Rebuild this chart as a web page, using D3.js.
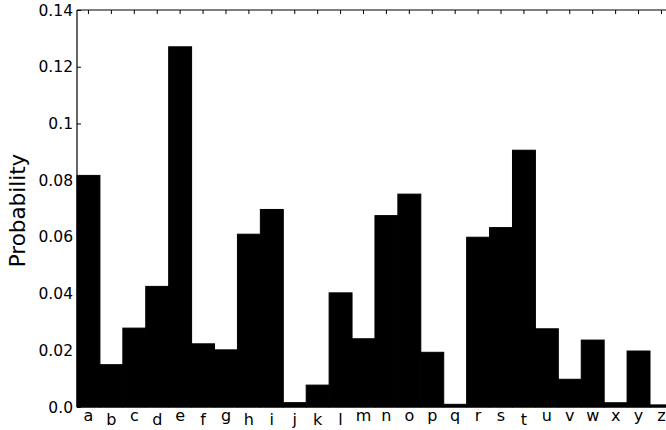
<!DOCTYPE html>
<html>
<head>
<meta charset="utf-8">
<script src="https://cdn.jsdelivr.net/npm/d3@7"></script>
<style>
  html, body { margin: 0; padding: 0; background: #fff; }
  svg { display: block; }
  text { font-family: "DejaVu Sans", sans-serif; fill: #000; }
</style>
</head>
<body>
<svg id="chart" width="666" height="430"></svg>
<script>
const letters = ["a","b","c","d","e","f","g","h","i","j","k","l","m","n","o","p","q","r","s","t","u","v","w","x","y","z"];
const probabilities = [0.08167,0.01492,0.02782,0.04253,0.12702,0.02228,0.02015,0.06094,0.06966,0.00153,0.00772,0.04025,0.02406,0.06749,0.07507,0.01929,0.00095,0.05987,0.06327,0.09056,0.02758,0.00978,0.02360,0.00150,0.01974,0.00074];
const yTickValues = [0, 0.02, 0.04, 0.06, 0.08, 0.10, 0.12, 0.14];
const yTickLabels = ["0.0","0.02","0.04","0.06","0.08","0.1","0.12","0.14"];
const yLabel = "Probability";
const ascenders = new Set(["b","d","f","h","i","j","k","l","t"]);

const svg = d3.select("#chart");
const plotLeft = 77, plotTop = 10, plotBottom = 407, step = 22.92;
const plotRight = plotLeft + step * letters.length;
const x = d3.scaleBand().domain(letters).range([plotLeft, plotRight]).padding(0);
const y = d3.scaleLinear().domain([0, 0.14]).range([plotBottom, plotTop]);

const data = letters.map((l, i) => ({ letter: l, value: probabilities[i] }));

// bars
svg.append("g").selectAll("rect").data(data).join("rect")
  .attr("x", d => x(d.letter))
  .attr("y", d => y(d.value))
  .attr("width", x.bandwidth())
  .attr("height", d => y(0) - y(d.value))
  .attr("fill", "#000")
  .attr("stroke", "#000")
  .attr("stroke-width", 1);

// spines
svg.append("line").attr("x1", plotLeft).attr("x2", plotLeft).attr("y1", plotTop).attr("y2", plotBottom)
  .attr("stroke", "#000").attr("stroke-width", 1.2);
svg.append("line").attr("x1", plotLeft).attr("x2", plotRight).attr("y1", plotTop).attr("y2", plotTop)
  .attr("stroke", "#000").attr("stroke-width", 1.2);
svg.append("line").attr("x1", plotLeft).attr("x2", plotRight).attr("y1", plotBottom).attr("y2", plotBottom)
  .attr("stroke", "#000").attr("stroke-width", 1.2);

// left axis: inward ticks
const yAxis = d3.axisRight(y).tickValues(yTickValues).tickSize(4).tickFormat("");
const gy = svg.append("g").attr("transform", `translate(${plotLeft},0)`).call(yAxis);
gy.select(".domain").remove();
gy.selectAll(".tick line").attr("stroke", "#000").attr("stroke-width", 1);

svg.append("g").selectAll("text").data(yTickValues).join("text")
  .attr("x", plotLeft - 4)
  .attr("y", d => y(d))
  .attr("dy", "0.36em")
  .attr("text-anchor", "end")
  .attr("font-size", 15.5)
  .text((d, i) => yTickLabels[i]);

// top axis: inward ticks at bar centres
const xAxisTop = d3.axisBottom(x).tickSize(4).tickFormat("");
const gx = svg.append("g").attr("transform", `translate(0,${plotTop})`).call(xAxisTop);
gx.select(".domain").remove();
gx.selectAll(".tick line").attr("stroke", "#000").attr("stroke-width", 1);

// x tick labels
svg.append("g").selectAll("text").data(letters).join("text")
  .attr("x", d => x(d) + x.bandwidth() / 2)
  .attr("y", d => ascenders.has(d) ? 425 : 421)
  .attr("text-anchor", "middle")
  .attr("font-size", 16)
  .text(d => d);

// y label
svg.append("text")
  .attr("transform", `translate(25,${(plotTop + plotBottom) / 2 + 2}) rotate(-90)`)
  .attr("text-anchor", "middle")
  .attr("font-size", 21.5)
  .text(yLabel);
</script>
</body>
</html>
